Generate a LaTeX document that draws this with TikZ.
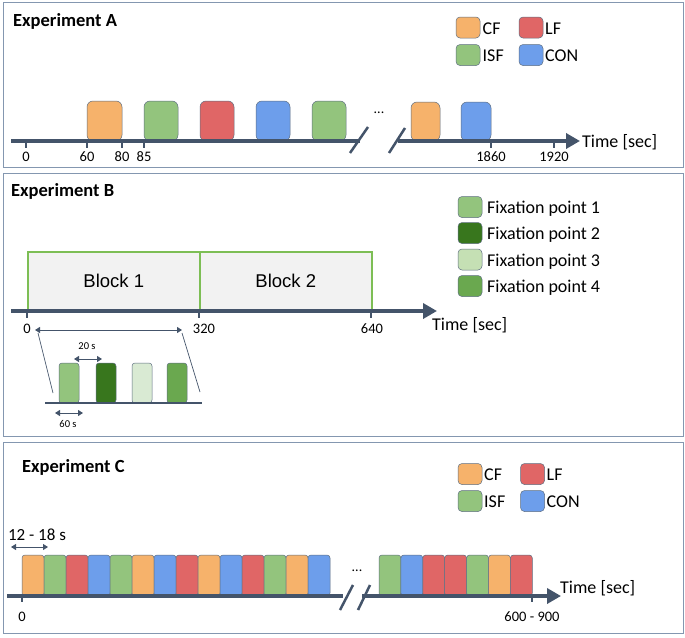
\documentclass[tikz,border=0pt]{standalone}
\usepackage{fontspec}
\setmainfont{Carlito}
\newfontfamily\arialf{Liberation Sans}
\usetikzlibrary{arrows.meta}
\definecolor{cfc}{HTML}{F6B26B}
\definecolor{lfc}{HTML}{E06666}
\definecolor{isfc}{HTML}{93C47D}
\definecolor{conc}{HTML}{6D9EEB}
\definecolor{fpa}{HTML}{93C47D}
\definecolor{fpb}{HTML}{38761D}
\definecolor{fpc}{HTML}{C5E0B4}
\definecolor{fpci}{HTML}{D9EAD3}
\definecolor{fpd}{HTML}{6AA84F}
\definecolor{axisc}{HTML}{44546A}
\definecolor{panelc}{HTML}{8497B0}
\definecolor{boxc}{HTML}{5F6F82}
\definecolor{blockg}{HTML}{7DBE55}
\definecolor{blockf}{HTML}{F2F2F2}
\begin{document}
\begin{tikzpicture}[x=1pt,y=-1pt,
  panel/.style={draw=panelc,line width=1.3pt},
  axisline/.style={draw=axisc,line width=3.5pt},
  axarrow/.style={-{Triangle[length=14pt,width=15pt]}},
  tickmark/.style={draw=axisc,line width=1.5pt},
  breakmark/.style={draw=axisc,line width=2.5pt},
  thinarrow/.style={draw=axisc,line width=1pt,{Triangle[length=5pt,width=6pt]}-{Triangle[length=5pt,width=6pt]}},
  guide/.style={draw=axisc,line width=0.7pt},
  blk/.style={draw=boxc,line width=0.5pt,rounded corners=6pt,inner sep=0pt,outer sep=0pt,anchor=south west,minimum height=40pt},
  cbar/.style={draw=boxc,line width=0.5pt,rounded corners=3pt,inner sep=0pt,outer sep=0pt,anchor=south west,minimum height=41pt,minimum width=22pt},
  ibar/.style={draw=boxc,line width=0.5pt,rounded corners=3pt,inner sep=0pt,outer sep=0pt,anchor=south west,minimum height=40pt,minimum width=20pt},
  leg/.style={draw=boxc,line width=0.5pt,rounded corners=4pt,minimum width=24pt,minimum height=21pt,inner sep=0pt},
  legt/.style={anchor=base west,inner sep=0pt,font=\fontsize{18}{20}\selectfont},
  title/.style={anchor=base west,inner sep=0pt,font=\bfseries\fontsize{18.5}{20}\selectfont},
  ticklbl/.style={inner sep=0pt,font=\fontsize{14.5}{16}\selectfont},
  smalllbl/.style={inner sep=0pt,font=\fontsize{10.5}{12}\selectfont},
  timelbl/.style={anchor=west,inner sep=0pt,font=\fontsize{18}{20}\selectfont},
  blockbox/.style={draw=blockg,fill=blockf,line width=1.6pt,minimum width=172pt,minimum height=58pt,anchor=south west,inner sep=0pt,font=\arialf\fontsize{18.5}{20}\selectfont}
]
\useasboundingbox[fill=white] (0,0) rectangle (685,637);

% ---------------- Panel A ----------------
\node[panel,minimum width=680pt,minimum height=165pt,anchor=north west,inner sep=0pt] (pA) at (3,2) {};
\node[title] (tA) at (13,27) {Experiment A};
\node[leg,fill=cfc] (lAcf) at (468,27.5) {};
\node[leg,fill=lfc] (lAlf) at (531,27.5) {};
\node[leg,fill=isfc] (lAisf) at (468,55) {};
\node[leg,fill=conc] (lAcon) at (531,55) {};
\node[legt] (tAcf) at (482.5,34) {CF};
\node[legt] (tAlf) at (545,34) {LF};
\node[legt] (tAisf) at (482.5,61.5) {ISF};
\node[legt] (tAcon) at (545,61.5) {CON};

\node[blk,fill=cfc,minimum width=35pt] (a1) at (87,141) {};
\node[blk,fill=isfc,minimum width=34pt] (a2) at (144,141) {};
\node[blk,fill=lfc,minimum width=34pt] (a3) at (200,141) {};
\node[blk,fill=conc,minimum width=34pt] (a4) at (256,141) {};
\node[blk,fill=isfc,minimum width=34pt] (a5) at (312,141) {};
\node[blk,fill=cfc,minimum width=29pt,minimum height=39pt] (a6) at (411,141) {};
\node[blk,fill=conc,minimum width=30pt,minimum height=39pt] (a7) at (461,141) {};
\node[inner sep=0pt,font=\fontsize{14}{16}\selectfont] (dA) at (379,113) {...};

\coordinate (axA0) at (11,141);
\coordinate (axA1) at (360,141);
\coordinate (axA2) at (398,141);
\coordinate (axA3) at (580,141);
\draw[axisline] (axA0) -- (axA1);
\draw[axisline,axarrow] (axA2) -- (axA3);
\coordinate (sA1a) at (350,153); \coordinate (sA1b) at (368,127);
\coordinate (sA2a) at (389,153); \coordinate (sA2b) at (405,128);
\draw[breakmark] (sA1a) -- (sA1b);
\draw[breakmark] (sA2a) -- (sA2b);
\node[timelbl] (timeA) at (582,142) {Time [sec]};

\foreach \x/\t [count=\i] in {26/0,87/60,122/80,144/85,491/1860,554/1920}{
  \coordinate (tkA\i) at (\x,141);
  \coordinate (tkAe\i) at (\x,148);
  \draw[tickmark] (tkA\i) -- (tkAe\i);
  \node[ticklbl] (lbA\i) at (\x,157) {\t};
}

% ---------------- Panel B ----------------
\node[panel,minimum width=680pt,minimum height=263pt,anchor=north west,inner sep=0pt] (pB) at (3,173) {};
\node[title] (tB) at (11,196) {Experiment B};
\node[leg,fill=fpa] (lB1) at (470,207) {};
\node[leg,fill=fpb] (lB2) at (470,233) {};
\node[leg,fill=fpc] (lB3) at (470,259.5) {};
\node[leg,fill=fpd] (lB4) at (470,286) {};
\node[legt] (tB1) at (487,213.5) {Fixation point 1};
\node[legt] (tB2) at (487,239.5) {Fixation point 2};
\node[legt] (tB3) at (487,266) {Fixation point 3};
\node[legt] (tB4) at (487,292.5) {Fixation point 4};

\node[blockbox] (b1) at (27,311) {Block 1};
\node[blockbox] (b2) at (199,311) {Block 2};

\coordinate (axB0) at (11,311);
\coordinate (axB1) at (437,311);
\draw[axisline,axarrow] (axB0) -- (axB1);
\node[timelbl] (timeB) at (432,325) {Time [sec]};
\foreach \x/\t [count=\i] in {27/0,199/320,371/640}{
  \coordinate (tkB\i) at (\x,311);
  \coordinate (tkBe\i) at (\x,318);
  \draw[tickmark] (tkB\i) -- (tkBe\i);
}
\node[ticklbl] (lbB1) at (27,329) {0};
\node[ticklbl] (lbB2) at (204,329) {320};
\node[ticklbl] (lbB3) at (372,329) {640};

% inset
\coordinate (iaL) at (35,330); \coordinate (iaR) at (182,330);
\draw[thinarrow] (iaL) -- (iaR);
\coordinate (gL1) at (38,333); \coordinate (gL2) at (53,393);
\coordinate (gR1) at (182,333); \coordinate (gR2) at (200,392);
\draw[guide] (gL1) -- (gL2);
\draw[guide] (gR1) -- (gR2);
\node[ibar,fill=fpa] (i1) at (59,403) {};
\node[ibar,fill=fpb] (i2) at (96,403) {};
\node[ibar,fill=fpci] (i3) at (132,403) {};
\node[ibar,fill=fpd] (i4) at (167,403) {};
\coordinate (imA) at (45,403); \coordinate (imB) at (202,403);
\draw[draw=axisc,line width=2.5pt] (imA) -- (imB);
\coordinate (d20a) at (74,359); \coordinate (d20b) at (102,359);
\draw[thinarrow] (d20a) -- (d20b);
\node[smalllbl] (l20) at (87,346) {20 s};
\coordinate (d60a) at (55,413); \coordinate (d60b) at (83,413);
\draw[thinarrow] (d60a) -- (d60b);
\node[smalllbl] (l60) at (68,424) {60 s};

% ---------------- Panel C ----------------
\node[panel,minimum width=680pt,minimum height=191pt,anchor=north west,inner sep=0pt] (pC) at (3,442) {};
\node[title] (tC) at (22,472) {Experiment C};
\node[leg,fill=cfc] (lCcf) at (470,474) {};
\node[leg,fill=lfc] (lClf) at (532.5,474) {};
\node[leg,fill=isfc] (lCisf) at (470,501) {};
\node[leg,fill=conc] (lCcon) at (532.5,501) {};
\node[legt] (tCcf) at (484,480.5) {CF};
\node[legt] (tClf) at (546.5,480.5) {LF};
\node[legt] (tCisf) at (484,507.5) {ISF};
\node[legt] (tCcon) at (546.5,507.5) {CON};

\node[inner sep=0pt,font=\fontsize{17}{19}\selectfont] (l1218) at (37,535) {12 - 18 s};
\coordinate (d12a) at (11,547); \coordinate (d12b) at (48,547);
\draw[thinarrow] (d12a) -- (d12b);

\foreach \c [count=\i from 0] in {cfc,isfc,lfc,conc,isfc,cfc,conc,lfc,cfc,conc,lfc,isfc,cfc,conc}{
  \node[cbar,fill=\c] (c\i) at (22+22*\i,596) {};
}
\foreach \c [count=\i from 0] in {isfc,conc,lfc,lfc,isfc,cfc,lfc}{
  \node[cbar,fill=\c,minimum width=21.9pt] (e\i) at (379+21.9*\i,596) {};
}
\node[inner sep=0pt,font=\fontsize{14}{16}\selectfont] (dC) at (357,571) {...};

\coordinate (axC0) at (7,596);
\coordinate (axC1) at (343,596);
\coordinate (axC2) at (362,596);
\coordinate (axC3) at (561,596);
\draw[axisline] (axC0) -- (axC1);
\draw[axisline,axarrow] (axC2) -- (axC3);
\coordinate (sC1a) at (340,610); \coordinate (sC1b) at (353,585);
\coordinate (sC2a) at (358,610); \coordinate (sC2b) at (370,585);
\draw[breakmark] (sC1a) -- (sC1b);
\draw[breakmark] (sC2a) -- (sC2b);
\node[timelbl] (timeC) at (560,588) {Time [sec]};
\coordinate (tkC1) at (22,596); \coordinate (tkCe1) at (22,602);
\coordinate (tkC2) at (532,596); \coordinate (tkCe2) at (532,602);
\draw[tickmark] (tkC1) -- (tkCe1);
\draw[tickmark] (tkC2) -- (tkCe2);
\node[ticklbl] (lbC1) at (22,617) {0};
\node[ticklbl] (lbC2) at (532,617) {600 - 900};
\end{tikzpicture}
\end{document}
